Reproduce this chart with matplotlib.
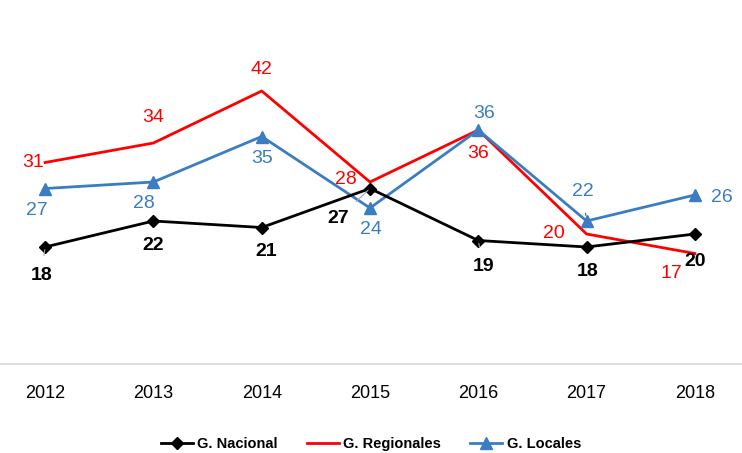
import matplotlib.pyplot as plt

# ----------------- DATA -----------------
years = ["2012", "2013", "2014", "2015", "2016", "2017", "2018"]
nacional = [18, 22, 21, 27, 19, 18, 20]
regionales = [31, 34, 42, 28, 36, 20, 17]
locales = [27, 28, 35, 24, 36, 22, 26]

# label offsets in pixels (dx, dy) per point, and whether a leader line is drawn
off_nac = [(-4, -28), (0, -24), (4, -24), (-32, -30), (5, -26), (1, -25), (0, -27)]
lead_nac = [True, False, False, True, True, False, False]
off_reg = [(-12, 0), (0, 25), (0, 22), (-24, 2), (0, -23), (-33, 1), (-23, -20)]
off_loc = [(-8, -22), (-10, -21), (0, -22), (1, -22), (6, 17), (-4, 30), (27, -2)]
lead_loc = [False, False, False, False, False, True, False]

BLUE = "#3A7DC2"

plt.rcParams["font.family"] = ["Liberation Sans", "DejaVu Sans"]

fig = plt.figure(figsize=(7.42, 4.53), dpi=100)
ax = fig.add_axes([-9 / 742, 89 / 453, 758 / 742, 325 / 453])
x = list(range(len(years)))

ax.plot(x, nacional, color="black", lw=2, marker="D", ms=6, label="G. Nacional", zorder=3)
ax.plot(x, regionales, color="red", lw=2, label="G. Regionales", zorder=2)
ax.plot(x, locales, color=BLUE, lw=2, marker="^", ms=9, label="G. Locales", zorder=2)

for i, v in enumerate(nacional):
    dx, dy = off_nac[i]
    ap = dict(arrowstyle="-", color="#A6A6A6", lw=0.8, shrinkA=6, shrinkB=2) if lead_nac[i] else None
    ax.annotate(str(v), (i, v), xytext=(dx, dy), textcoords="offset pixels",
                ha="center", va="center", fontsize=14, fontweight="bold", color="black",
                arrowprops=ap)
for i, v in enumerate(regionales):
    dx, dy = off_reg[i]
    ax.annotate(str(v), (i, v), xytext=(dx, dy), textcoords="offset pixels",
                ha="center", va="center", fontsize=14, color="red")
for i, v in enumerate(locales):
    dx, dy = off_loc[i]
    ap = dict(arrowstyle="-", color="#2F5F8F", lw=0.8, shrinkA=8, shrinkB=4) if lead_loc[i] else None
    ax.annotate(str(v), (i, v), xytext=(dx, dy), textcoords="offset pixels",
                ha="center", va="center", fontsize=14, color=BLUE, arrowprops=ap)

ax.set_xlim(-0.5, 6.5)
ax.set_ylim(0, 50)
ax.set_xticks(x)
ax.set_xticklabels(years, fontsize=13)
ax.tick_params(axis="x", length=0, pad=15)
ax.set_yticks([])
for s in ["top", "right", "left"]:
    ax.spines[s].set_visible(False)
ax.spines["bottom"].set_color("#D9D9D9")
ax.spines["bottom"].set_linewidth(1.2)

fig.legend(loc="center", bbox_to_anchor=(0.5, 1 - 444 / 453), ncol=3, frameon=False,
           handlelength=2.2, columnspacing=2.0, handletextpad=0.3,
           prop={"weight": "bold", "size": 10.5})

fig.savefig("out.png", dpi=100)
